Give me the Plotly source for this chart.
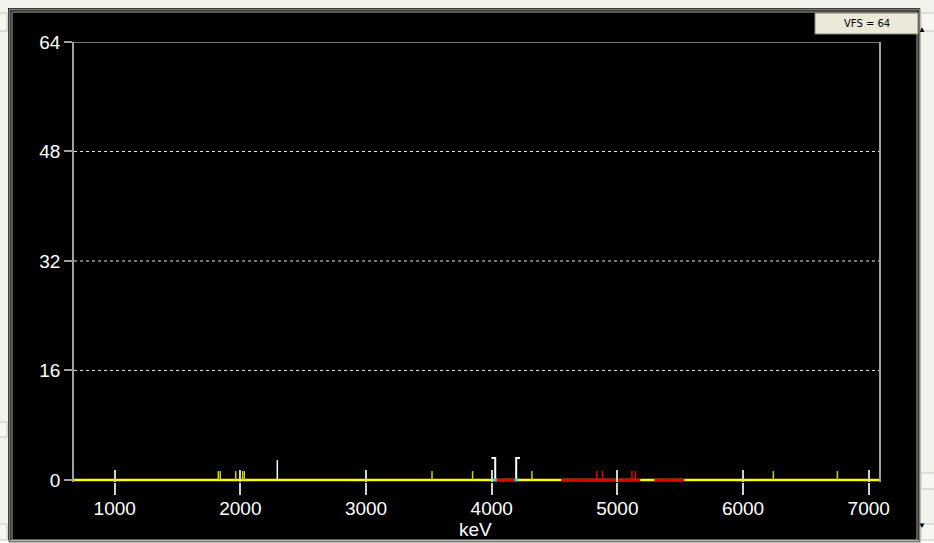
import plotly.graph_objects as go

# ---------------- data ----------------
x_tick_vals = [1000, 2000, 3000, 4000, 5000, 6000, 7000]
y_tick_vals = [0, 16, 32, 48, 64]
grid_vals = [16, 32, 48]
x_min, x_max = 676, 7082
y_min, y_max = -0.3, 64

yellow_peak_kev = [1824, 1840, 1963, 2018, 2031, 3525, 3848, 4320, 6241, 6751]
yellow_peak_cts = [1.3, 1.3, 1.3, 1.3, 1.3, 1.3, 1.3, 1.3, 1.3, 1.3]
red_peak_kev = [4837, 4881, 5116, 5143]
red_peak_cts = [1.3, 1.3, 1.3, 1.3]
white_peak_kev = [2294]
white_peak_cts = [2.9]

roi_start = [4028, 4553, 5294]
roi_end = [4195, 5182, 5533]
marker_kev = [4028, 4195]
marker_side = [-1, 1]
marker_height = 3.2

# ---------------- geometry helpers (pixel -> paper) ----------------
W, H = 934, 543
ML, MR, MT, MB = 74, 55, 42, 61
PW, PH = W - ML - MR, H - MT - MB


def px(x):
    return (x - ML) / PW


def py(y):
    return (H - MB - y) / PH


def spikes(xs, ys):
    X, Y = [], []
    for a, b in zip(xs, ys):
        X += [a, a, None]
        Y += [0, b, None]
    return X, Y


fig = go.Figure()

# baseline (zero counts across spectrum)
fig.add_trace(go.Scatter(x=[x_min, x_max], y=[0, 0], mode="lines",
                         line=dict(color="#FFFF00", width=2.5), hoverinfo="skip"))
# ROI segments in red
rx, ry = [], []
for s, e in zip(roi_start, roi_end):
    rx += [s, e, None]
    ry += [0, 0, None]
fig.add_trace(go.Scatter(x=rx, y=ry, mode="lines",
                         line=dict(color="#E80000", width=2.5), hoverinfo="skip"))
# spikes
X, Y = spikes(yellow_peak_kev, yellow_peak_cts)
fig.add_trace(go.Scatter(x=X, y=Y, mode="lines", line=dict(color="#CFCF00", width=1.5), hoverinfo="skip"))
X, Y = spikes(red_peak_kev, red_peak_cts)
fig.add_trace(go.Scatter(x=X, y=Y, mode="lines", line=dict(color="#E80000", width=1.5), hoverinfo="skip"))
X, Y = spikes(white_peak_kev, white_peak_cts)
fig.add_trace(go.Scatter(x=X, y=Y, mode="lines", line=dict(color="#FFFFFF", width=1.5), hoverinfo="skip"))

# ROI bracket markers
bx, by = [], []
for k, s in zip(marker_kev, marker_side):
    bx += [k + s * 30, k, k, None]
    by += [marker_height, marker_height, 0, None]
fig.add_trace(go.Scatter(x=bx, y=by, mode="lines", line=dict(color="#FFFFFF", width=2), hoverinfo="skip"))
fig.add_trace(go.Scatter(x=marker_kev, y=[0] * len(marker_kev), mode="markers",
                         marker=dict(color="#00E0FF", size=3, symbol="square"), hoverinfo="skip"))

# invisible trace for inner tick axis
fig.add_trace(go.Scatter(x=[x_min], y=[0], xaxis="x2", mode="markers",
                         marker=dict(opacity=0), hoverinfo="skip", showlegend=False))

font = "Liberation Sans, Arial, sans-serif"
shapes = []
# gridlines
for g in grid_vals:
    shapes.append(dict(type="line", xref="paper", yref="y", x0=0, x1=1, y0=g, y1=g,
                       line=dict(color="#E8E8E8", width=1, dash="3px,3px"), layer="below"))
# top border
shapes.append(dict(type="line", xref="paper", yref="y", x0=0, x1=1, y0=y_max, y1=y_max,
                   line=dict(color="#A0A0A0", width=1.5)))

frame_col = "#F3F2EC"


def rect(x0, y0, x1, y1, fill=None, line=None, lw=1):
    d = dict(type="rect", xref="paper", yref="paper",
             x0=px(x0), x1=px(x1), y0=py(y1), y1=py(y0), layer="above")
    d["fillcolor"] = fill if fill else "rgba(0,0,0,0)"
    d["line"] = dict(color=line, width=lw) if line else dict(width=0)
    return d


# window frame
shapes += [
    rect(0, 0, W, 8, fill=frame_col),
    rect(0, 0, 8, H, fill=frame_col),
    rect(920, 0, W, H, fill=frame_col),
    rect(0, 540, W, H, fill="#FFFFFF"),
    rect(9.5, 9.5, 919.5, 541.5, line="#7A7A72", lw=2),
    rect(12, 12, 917, 540, line="#B0B0A8", lw=1),
    # scroll buttons
    rect(921, 13, W + 2, 31, fill="#F7F6F2", line="#C8C6BC"),
    rect(921, 473, W + 2, 489, fill="#F7F6F2", line="#C8C6BC"),
    rect(921, 524, W + 2, 540, fill="#F7F6F2", line="#C8C6BC"),
    rect(-2, 13, 7, 31, fill="#F7F6F2", line="#C8C6BC"),
    rect(-2, 422, 7, 437, fill="#F7F6F2", line="#C8C6BC"),
    rect(-2, 524, 7, 540, fill="#F7F6F2", line="#C8C6BC"),
    # VFS box
    rect(815, 13, 918, 34, fill="#ECE9D8", line="#8A8878", lw=1),
]

annotations = [
    dict(text="VFS = 64", xref="paper", yref="paper", x=px(867), y=py(23.5),
         showarrow=False, font=dict(family="DejaVu Sans, sans-serif", size=10, color="#000000"),
         xanchor="center", yanchor="middle"),
    dict(text="▲", xref="paper", yref="paper", x=px(928), y=py(21), showarrow=False,
         font=dict(size=8, color="#000000")),
    dict(text="▼", xref="paper", yref="paper", x=px(928), y=py(532), showarrow=False,
         font=dict(size=8, color="#000000")),
    dict(text="keV", xref="paper", yref="paper", x=px(475), y=py(529), showarrow=False,
         font=dict(family=font, size=19, color="#FFFFFF"), xanchor="center", yanchor="middle"),
]

fig.update_layout(
    width=W, height=H,
    margin=dict(l=ML, r=MR, t=MT, b=MB, pad=0, autoexpand=False),
    paper_bgcolor="#000000", plot_bgcolor="#000000",
    showlegend=False,
    shapes=shapes, annotations=annotations,
    xaxis=dict(range=[x_min, x_max], tickvals=x_tick_vals, ticktext=[str(v) for v in x_tick_vals],
               ticks="outside", ticklen=12, tickwidth=1.5, tickcolor="#D0D0D0", automargin=False,
               ticklabelstandoff=-3,
               showgrid=False, zeroline=False, showline=False,
               tickfont=dict(family=font, size=19, color="#FFFFFF")),
    xaxis2=dict(range=[x_min, x_max], overlaying="x", anchor="y", side="bottom", automargin=False,
                tickvals=x_tick_vals, ticks="inside", ticklen=12, tickwidth=1.5, tickcolor="#D0D0D0",
                showticklabels=False, showgrid=False, zeroline=False, showline=False),
    yaxis=dict(range=[y_min, y_max], tickvals=y_tick_vals, ticktext=[str(v) for v in y_tick_vals],
               ticks="outside", ticklen=8, tickcolor="#A0A0A0", tickwidth=1.5, automargin=False,
               showgrid=False, zeroline=False, showline=True, linecolor="#A0A0A0", linewidth=1.5,
               mirror=True,
               tickfont=dict(family=font, size=19, color="#FFFFFF")),
)

fig.write_html("out.html", config={"displayModeBar": False},
               post_script="document.body.style.margin='0';document.body.style.overflow='hidden';")
